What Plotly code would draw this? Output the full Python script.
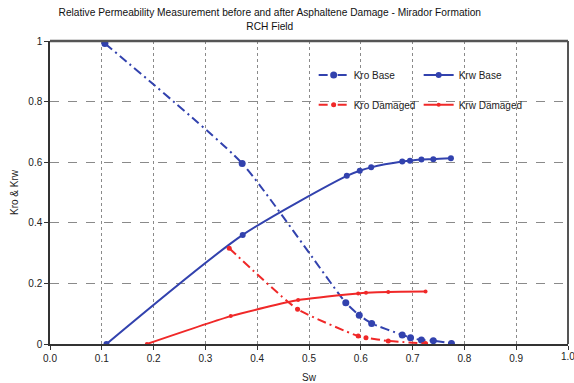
import plotly.graph_objects as go

# Relative permeability curves (water saturation Sw vs. Kro / Krw)
sw_kro_base = [0.106, 0.371, 0.571, 0.597, 0.621, 0.680, 0.696, 0.717, 0.740, 0.775]
kro_base = [0.992, 0.596, 0.136, 0.095, 0.068, 0.030, 0.021, 0.013, 0.011, 0.002]

sw_krw_base = [0.109, 0.372, 0.573, 0.598, 0.620, 0.680, 0.695, 0.717, 0.740, 0.774]
krw_base = [0.0, 0.360, 0.555, 0.572, 0.583, 0.602, 0.605, 0.609, 0.610, 0.613]

sw_kro_dam = [0.346, 0.478, 0.595, 0.610, 0.653, 0.725]
kro_dam = [0.316, 0.115, 0.026, 0.021, 0.010, 0.002]

sw_krw_dam = [0.187, 0.349, 0.479, 0.595, 0.610, 0.653, 0.725]
krw_dam = [0.0, 0.092, 0.145, 0.167, 0.169, 0.172, 0.173]

x_ticks = [0.0, 0.1, 0.2, 0.3, 0.4, 0.5, 0.6, 0.7, 0.8, 0.9, 1.0]
x_tick_text = ["0.0", "0.1", "0.2", "0.3", "0.4", "0.5", "0.6", "0.7", "0.8", "0.9", "1.0"]
y_ticks = [0, 0.2, 0.4, 0.6, 0.8, 1]
y_tick_text = ["0", "0.2", "0.4", "0.6", "0.8", "1"]

BLUE = "#3242AE"
RED = "#F02828"
DASHDOT = "9px,4px,2px,4px"
FONT = "Liberation Sans, Arial, sans-serif"

fig = go.Figure()
fig.add_trace(go.Scatter(
    x=sw_kro_base, y=kro_base, name="Kro Base", legend="legend",
    mode="lines+markers", line=dict(color=BLUE, width=2, dash=DASHDOT, shape="spline", smoothing=0.5),
    marker=dict(color=BLUE, size=7, symbol="circle")))
fig.add_trace(go.Scatter(
    x=sw_krw_base, y=krw_base, name="Krw Base", legend="legend",
    mode="lines+markers", line=dict(color=BLUE, width=2, shape="spline", smoothing=0.7),
    marker=dict(color=BLUE, size=6, symbol="circle")))
fig.add_trace(go.Scatter(
    x=sw_kro_dam, y=kro_dam, name="Kro Damaged", legend="legend2",
    mode="lines+markers", line=dict(color=RED, width=2, dash=DASHDOT, shape="spline", smoothing=0.5),
    marker=dict(color=RED, size=5, symbol="circle")))
fig.add_trace(go.Scatter(
    x=sw_krw_dam, y=krw_dam, name="Krw Damaged", legend="legend2",
    mode="lines+markers", line=dict(color=RED, width=2, shape="spline", smoothing=0.5),
    marker=dict(color=RED, size=4, symbol="circle")))

legend_style = dict(orientation="h", xanchor="left", yanchor="middle",
                    bgcolor="rgba(0,0,0,0)", font=dict(family=FONT, size=10, color="#222"),
                    entrywidth=60, itemwidth=30)

fig.update_layout(
    width=574, height=383,
    margin=dict(l=50, r=6, t=41, b=39, autoexpand=False),
    paper_bgcolor="white", plot_bgcolor="white",
    font=dict(family=FONT, size=10, color="#222"),
    title=dict(text="Relative Permeability Measurement before and after Asphaltene Damage - Mirador Formation<br>RCH Field",
               x=0.47, xanchor="center", y=0.957, yanchor="top",
               font=dict(family=FONT, size=10.2, color="#111")),
    legend=dict(x=0.509, y=0.888, **legend_style),
    legend2=dict(x=0.509, y=0.79, **legend_style),
    xaxis=dict(range=[0, 1], tickvals=x_ticks, ticktext=x_tick_text, automargin=False,
               showgrid=True, gridcolor="#8a8a8a", griddash="dot", gridwidth=1,
               showline=True, linecolor="#333", linewidth=1.5, mirror=False,
               ticks="outside", ticklen=4, tickcolor="#333",
               zeroline=False, tickfont=dict(size=10),
               title=dict(text="Sw", font=dict(size=10), standoff=12)),
    yaxis=dict(range=[0, 1], tickvals=y_ticks, ticktext=y_tick_text, automargin=False,
               showgrid=True, gridcolor="#8a8a8a", griddash="dash", gridwidth=1,
               showline=True, linecolor="#333", linewidth=1.5, mirror=False,
               ticks="outside", ticklen=4, tickcolor="#333",
               zeroline=False, tickfont=dict(size=10),
               title=dict(text="Kro & Krw", font=dict(size=10), standoff=8)),
)

# Top and right frame of the plotting area
fig.add_shape(type="line", xref="paper", yref="paper", x0=0, x1=1, y0=1, y1=1,
              line=dict(color="#555", width=2.5))
fig.add_shape(type="line", xref="paper", yref="paper", x0=1, x1=1, y0=0, y1=1,
              line=dict(color="#555", width=2))

# Last x tick label sits on the figure edge, so it is drawn as an annotation
fig.add_annotation(x=x_ticks[-1], y=0, xref="x", yref="paper", text=x_tick_text[-1],
                   showarrow=False, xanchor="center", yanchor="top", yshift=-5,
                   font=dict(family=FONT, size=10, color="#222"))

fig.write_html("out.html")
